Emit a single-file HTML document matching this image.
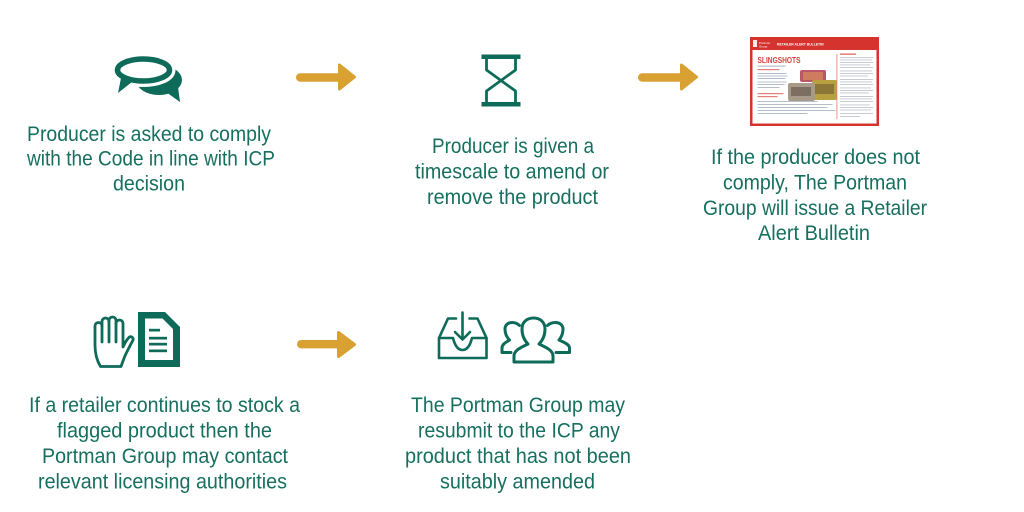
<!DOCTYPE html>
<html><head><meta charset="utf-8"><style>
html,body{margin:0;padding:0;background:#fff;}
svg{display:block;}
text{font-family:"Liberation Sans",Arial,sans-serif;}
.t{font-size:21px;fill:#17705f;}
</style></head><body>
<svg width="1024" height="512" viewBox="0 0 1024 512" xmlns="http://www.w3.org/2000/svg">
<rect width="1024" height="512" fill="#fff"/>

<!-- Chat icon -->
<g>
  <ellipse cx="159" cy="80" rx="23" ry="15" fill="#0e6b5a"/>
  <polygon points="166,92 178,87 180,102" fill="#0e6b5a"/>
  <ellipse cx="143.5" cy="70" rx="26" ry="11" fill="#fff" stroke="#fff" stroke-width="12"/>
  <polygon points="119,80 134,84 116,96" fill="#fff"/>
  <ellipse cx="143.5" cy="70" rx="26" ry="11" fill="#fff" stroke="#0e6b5a" stroke-width="5.5"/>
  <polygon points="121,78 132,82 118,93" fill="#0e6b5a"/>
</g>

<!-- Arrow 1 -->
<g fill="#d9a132" stroke="#d9a132" stroke-linejoin="round">
  <rect x="296" y="73.3" width="46" height="8.4" rx="4.2" stroke="none"/>
  <polygon points="339.5,65 354.5,77 339.5,89" stroke-width="3"/>
</g>

<!-- Hourglass -->
<g>
  <rect x="481.5" y="54.5" width="39" height="4.5" fill="#0e6b5a"/>
  <rect x="481.5" y="102" width="39" height="4.5" fill="#0e6b5a"/>
  <path d="M486.5 59 L486.5 70 L515.5 91 L515.5 102 M515.5 59 L515.5 70 L486.5 91 L486.5 102" fill="none" stroke="#0e6b5a" stroke-width="2.8" stroke-linejoin="round"/>
</g>

<!-- Arrow 2 -->
<g fill="#d9a132" stroke="#d9a132" stroke-linejoin="round">
  <rect x="638" y="73.3" width="46" height="8.4" rx="4.2" stroke="none"/>
  <polygon points="681.5,65 696.5,77 681.5,89" stroke-width="3"/>
</g>

<!-- Bulletin image -->
<g>
  <rect x="750" y="37" width="129" height="89" fill="#d4332e"/>
  <rect x="752.5" y="50" width="124" height="73.5" fill="#fff"/>
  <rect x="753" y="40" width="4" height="7" fill="#fff" opacity="0.9"/>
  <text x="759" y="44" font-size="3" fill="#fff">Portman</text>
  <text x="759" y="47.5" font-size="3" fill="#fff">Group</text>
  <text x="777" y="45.5" font-size="3.4" fill="#fff" font-weight="bold">RETAILER ALERT BULLETIN</text>
  <text x="757.5" y="63" font-size="8.6" font-weight="bold" fill="#d8403a" textLength="43" lengthAdjust="spacingAndGlyphs">SLINGSHOTS</text>
  <g fill="#9aa0b4" opacity="0.7">
    <rect x="757.5" y="65.5" width="28" height="1.2"/>
    <rect x="757.5" y="73" width="29" height="1"/>
    <rect x="757.5" y="75.5" width="30" height="1"/>
    <rect x="757.5" y="78" width="28" height="1"/>
    <rect x="757.5" y="81.5" width="29" height="1"/>
    <rect x="757.5" y="84" width="27" height="1"/>
    <rect x="757.5" y="87" width="22" height="1"/>
    <rect x="757.5" y="101" width="60" height="1"/>
    <rect x="757.5" y="104" width="75" height="1"/>
    <rect x="757.5" y="107" width="70" height="1"/>
    <rect x="757.5" y="110" width="78" height="1"/>
    <rect x="757.5" y="113" width="50" height="1"/>
  </g>
  <g fill="#e06a60" opacity="0.85">
    <rect x="757.5" y="69" width="22" height="1.2"/>
    <rect x="757.5" y="93" width="26" height="1.2"/>
    <rect x="757.5" y="96" width="20" height="1.2"/>
  </g>
  <!-- products -->
  <rect x="800" y="70" width="26" height="12" rx="2" fill="#b9566a"/>
  <rect x="803" y="72" width="20" height="8" fill="#d98c5a" opacity="0.7"/>
  <rect x="812" y="80" width="25" height="20" rx="2" fill="#b8a040"/>
  <rect x="815" y="84" width="19" height="10" fill="#6c5a32" opacity="0.6"/>
  <rect x="788" y="83" width="27" height="18" rx="2" fill="#a89a88"/>
  <rect x="791" y="87" width="20" height="9" fill="#5f5448" opacity="0.6"/>
  <!-- divider -->
  <rect x="836.5" y="54" width="0.8" height="65" fill="#e07a74"/>
  <rect x="840" y="53.5" width="16" height="1.3" fill="#e06a60"/>
  <g fill="#9aa0b4" opacity="0.6">
    <rect x="840" y="57" width="33" height="0.9"/>
    <rect x="840" y="59.5" width="32" height="0.9"/>
    <rect x="840" y="62" width="33" height="0.9"/>
    <rect x="840" y="64.5" width="30" height="0.9"/>
    <rect x="840" y="67" width="33" height="0.9"/>
    <rect x="840" y="70.5" width="32" height="0.9"/>
    <rect x="840" y="73" width="33" height="0.9"/>
    <rect x="840" y="75.5" width="28" height="0.9"/>
    <rect x="840" y="79" width="33" height="0.9"/>
    <rect x="840" y="81.5" width="32" height="0.9"/>
    <rect x="840" y="84" width="33" height="0.9"/>
    <rect x="840" y="87.5" width="31" height="0.9"/>
    <rect x="840" y="90" width="33" height="0.9"/>
    <rect x="840" y="92.5" width="29" height="0.9"/>
    <rect x="840" y="96" width="33" height="0.9"/>
    <rect x="840" y="98.5" width="32" height="0.9"/>
    <rect x="840" y="101" width="33" height="0.9"/>
    <rect x="840" y="104.5" width="30" height="0.9"/>
    <rect x="840" y="107" width="33" height="0.9"/>
    <rect x="840" y="109.5" width="31" height="0.9"/>
    <rect x="840" y="113" width="33" height="0.9"/>
    <rect x="840" y="116" width="20" height="0.9"/>
  </g>
</g>

<!-- Hand icon -->
<g fill="none" stroke="#0e6b5a" stroke-width="2.8" stroke-linejoin="round" stroke-linecap="round">
  <path d="M121 366.5 L100.5 366.5 C96.5 360 95 352 95 345 L95 326 A3.5 3.5 0 0 1 102 326 L102 321.5 A3.5 3.5 0 0 1 109 321.5 L109 320.5 A3.5 3.5 0 0 1 116 320.5 L116 323.5 A3.5 3.5 0 0 1 123 323.5 L123 347 C125 342.5 127 339 129.5 337 A2.5 2.5 0 0 1 133 340 C130 346 126.5 352 124.5 357 Z"/>
  <path d="M102 326 L102 342 M109 321.5 L109 342 M116 323.5 L116 342"/>
</g>

<!-- Document icon -->
<path d="M138 312 L165 312 L180 327 L180 367 L138 367 Z" fill="#0e6b5a"/>
<path d="M145 318.5 L162.5 318.5 L173 329 L173 360 L145 360 Z" fill="#fff"/>
<g fill="#0e6b5a">
  <rect x="149" y="328.8" width="11" height="2.7"/>
  <rect x="149" y="336.8" width="18" height="2.7"/>
  <rect x="149" y="342.8" width="18" height="2.7"/>
  <rect x="149" y="349.5" width="18" height="2.7"/>
</g>

<!-- Arrow 3 -->
<g fill="#d9a132" stroke="#d9a132" stroke-linejoin="round">
  <rect x="297" y="340" width="45" height="8.4" rx="4.2" stroke="none"/>
  <polygon points="338.5,332.5 354.5,344.5 338.5,356.5" stroke-width="3"/>
</g>

<!-- Inbox icon -->
<g fill="none" stroke="#0e6b5a" stroke-width="2.6" stroke-linejoin="round" stroke-linecap="round">
  <path d="M456 318.5 L448 318.5 L439 338 L439 358 L486.5 358 L486.5 338 L477.5 318.5 L469.5 318.5"/>
  <path d="M439 338 L453 338 C455 346 458 350 462.5 350 C467 350 470 346 472 338 L486.5 338"/>
  <path d="M462.5 312.5 L462.5 339"/>
  <path d="M455 332 L462.5 339.5 L470 332"/>
</g>

<!-- People icon -->
<g fill="none" stroke="#0e6b5a" stroke-width="3" stroke-linejoin="round" stroke-linecap="round">
  <path d="M514 362 L514 356 C514 350 522 347 528 344 C524 340 522 335 522 329 C522 322 527 318 533.5 318 C540 318 545 322 545 329 C545 335 543 340 539 344 C545 347 553 350 553 356 L553 362 Z"/>
  <path d="M511 352.5 L502 352.5 L502 348 C502 344 506.5 342 509.5 340 C506.5 337 505 333 505 329 C505 325 508 322.5 512 322.5 C515 322.5 517.5 323.5 519.5 325.5"/>
  <path d="M556 352.5 L569.5 352.5 L569.5 348 C569.5 344 563 342 559 340 C561.5 337 563 333 563 329 C563 325 559.5 322.5 555.5 322.5 C552 322.5 549.5 323.5 547.5 325.5"/>
</g>

<!-- Texts -->
<g class="t">
  <text class="t" x="27" y="141" textLength="244" lengthAdjust="spacingAndGlyphs">Producer is asked to comply</text>
  <text class="t" x="27" y="165.5" textLength="248" lengthAdjust="spacingAndGlyphs">with the Code in line with ICP</text>
  <text class="t" x="113" y="190.5" textLength="72" lengthAdjust="spacingAndGlyphs">decision</text>

  <text class="t" x="432" y="153" textLength="162" lengthAdjust="spacingAndGlyphs">Producer is given a</text>
  <text class="t" x="415" y="178.5" textLength="194" lengthAdjust="spacingAndGlyphs">timescale to amend or</text>
  <text class="t" x="427" y="204" textLength="171" lengthAdjust="spacingAndGlyphs">remove the product</text>

  <text class="t" x="711" y="164" textLength="209" lengthAdjust="spacingAndGlyphs">If the producer does not</text>
  <text class="t" x="723" y="189.5" textLength="184" lengthAdjust="spacingAndGlyphs">comply, The Portman</text>
  <text class="t" x="703" y="215" textLength="224" lengthAdjust="spacingAndGlyphs">Group will issue a Retailer</text>
  <text class="t" x="758" y="240" textLength="112" lengthAdjust="spacingAndGlyphs">Alert Bulletin</text>

  <text class="t" x="29" y="412" textLength="271" lengthAdjust="spacingAndGlyphs">If a retailer continues to stock a</text>
  <text class="t" x="57" y="437.5" textLength="215" lengthAdjust="spacingAndGlyphs">flagged product then the</text>
  <text class="t" x="42" y="463" textLength="246" lengthAdjust="spacingAndGlyphs">Portman Group may contact</text>
  <text class="t" x="38" y="488.5" textLength="249" lengthAdjust="spacingAndGlyphs">relevant licensing authorities</text>

  <text class="t" x="411" y="412" textLength="214" lengthAdjust="spacingAndGlyphs">The Portman Group may</text>
  <text class="t" x="418" y="437.5" textLength="202" lengthAdjust="spacingAndGlyphs">resubmit to the ICP any</text>
  <text class="t" x="405" y="463" textLength="226" lengthAdjust="spacingAndGlyphs">product that has not been</text>
  <text class="t" x="440" y="488.5" textLength="155" lengthAdjust="spacingAndGlyphs">suitably amended</text>
</g>
</svg>
</body></html>
